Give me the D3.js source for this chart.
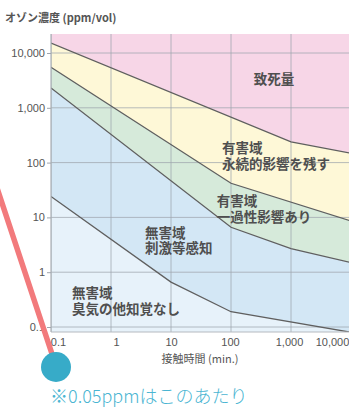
<!DOCTYPE html>
<html lang="ja">
<head>
<meta charset="utf-8">
<script src="https://cdn.jsdelivr.net/npm/d3@7"></script>
<style>
  html, body { margin: 0; padding: 0; background: #ffffff; }
  svg { display: block; font-family: "Noto Sans CJK JP", "Noto Sans", sans-serif; }
  text.zone { font-family: "Liberation Sans", "Noto Sans CJK JP", sans-serif; }
</style>
</head>
<body>
<svg id="chart" width="349" height="407"></svg>
<script>
// Exposure time (min) vs ozone concentration (ppm/vol), log-log
const tickValues = [0.1, 1, 10, 100, 1000, 10000];
const xTickLabels = ["0.1", "1", "10", "100", "1,000", "10,000"];
const yTickLabels = ["0.1", "1", "10", "100", "1,000", "10,000"];

// Boundary lines between effect zones: [minutes, ppm]
const lethalEdge    = [[0.1, 15200], [1000, 240], [10000, 148]];
const lastingEdge   = [[0.1, 5500], [100, 42], [10000, 8.6]];
const transientEdge = [[0.1, 2300], [100, 6.6], [1000, 2.7], [10000, 1.5]];
const perceptEdge   = [[0.1, 24], [10, 0.66], [100, 0.19], [10000, 0.08]];

const zoneNames = ["致死量", "有害域\n永続的影響を残す", "有害域\n一過性影響あり", "無害域\n刺激等感知", "無害域\n臭気の他知覚なし"];
const zoneColors = ["#f7d6e7", "#fef8d7", "#d6eada", "#d3e7f5", "#e7f2fa"];
// label anchor per zone: [minutes, ppm] at the first line's baseline
const zoneAnchors = [[520, 2700], [71, 148], [58, 16], [3.7, 4.2], [0.224, 0.335]];

const svg = d3.select("#chart");
const plotLeft = 51, plotRight = 349, plotTop = 34, plotBottom = 332;

const x = d3.scaleLog().domain([0.1, 10000]).range([plotLeft, 351]);
const y = d3.scaleLog().domain([0.1, 10000]).range([327, 53]);
const yTop = y.invert(plotTop), yBottom = y.invert(plotBottom);
const xRight = x.invert(plotRight + 2);

svg.append("defs").append("clipPath").attr("id", "plot")
  .append("rect").attr("x", plotLeft).attr("y", plotTop)
  .attr("width", plotRight - plotLeft).attr("height", plotBottom - plotTop);

const ceiling = [[0.1, yTop], [xRight, yTop]];
const floor = [[0.1, yBottom], [xRight, yBottom]];
const bands = [
  [ceiling, lethalEdge],
  [lethalEdge, lastingEdge],
  [lastingEdge, transientEdge],
  [transientEdge, perceptEdge],
  [perceptEdge, floor]
];

const pathOf = d3.line().x(d => x(d[0])).y(d => y(d[1]));
const plot = svg.append("g").attr("clip-path", "url(#plot)");

// zone fills
plot.selectAll("path.zone").data(bands).join("path")
  .attr("class", "zone")
  .attr("d", d => pathOf(d[0].concat(d[1].slice().reverse())) + "Z")
  .attr("fill", (d, i) => zoneColors[i]);

// grid
plot.selectAll("line.vgrid").data(tickValues).join("line")
  .attr("class", "vgrid")
  .attr("x1", d => x(d)).attr("x2", d => x(d))
  .attr("y1", plotTop).attr("y2", plotBottom)
  .attr("stroke", "#9fa5ad").attr("stroke-opacity", 0.75).attr("stroke-width", 1);
plot.selectAll("line.hgrid").data(tickValues).join("line")
  .attr("class", "hgrid")
  .attr("x1", plotLeft).attr("x2", plotRight)
  .attr("y1", d => y(d)).attr("y2", d => y(d))
  .attr("stroke", "#9fa5ad").attr("stroke-opacity", 0.75).attr("stroke-width", 1);

// boundary lines
plot.selectAll("path.edge").data([lethalEdge, lastingEdge, transientEdge, perceptEdge]).join("path")
  .attr("class", "edge")
  .attr("d", pathOf)
  .attr("fill", "none")
  .attr("stroke", "#5f5f5f").attr("stroke-width", 1.3);

// frame
svg.append("line").attr("x1", plotLeft).attr("x2", plotLeft).attr("y1", plotTop).attr("y2", plotBottom)
  .attr("stroke", "#aab0b6").attr("stroke-width", 1.2);
svg.append("line").attr("x1", plotLeft).attr("x2", plotRight).attr("y1", plotBottom).attr("y2", plotBottom)
  .attr("stroke", "#b5bac0").attr("stroke-width", 1.2);

// y axis
const yAxis = d3.axisLeft(y).tickValues(tickValues)
  .tickFormat((d, i) => yTickLabels[i]).tickSize(4).tickPadding(2);
const gy = svg.append("g").attr("transform", `translate(${plotLeft},0)`).call(yAxis);
gy.select(".domain").remove();
gy.selectAll(".tick line").attr("stroke", "#9fa5ad");
gy.selectAll(".tick text").attr("fill", "#555").style("font-size", "11px");

// x axis
const xDx = [7, 5, 0, -1, -2, -19];
const xAxis = d3.axisBottom(x).tickValues(tickValues)
  .tickFormat((d, i) => xTickLabels[i]).tickSize(0).tickPadding(6);
const gx = svg.append("g").attr("transform", `translate(0,${plotBottom})`).call(xAxis);
gx.select(".domain").remove();
gx.selectAll(".tick text").attr("fill", "#555").style("font-size", "11px")
  .attr("dx", (d, i) => xDx[i]);

// axis titles
svg.append("text").attr("x", 5).attr("y", 22)
  .attr("fill", "#555").style("font-size", "11px").style("font-weight", "600")
  .text("オゾン濃度 (ppm/vol)");
svg.append("text").attr("x", 200).attr("y", 363).attr("text-anchor", "middle")
  .attr("fill", "#555").style("font-size", "11px")
  .text("接触時間 (min.)");

// zone labels: one text per line
const labelRows = [];
zoneNames.forEach((name, i) => {
  name.split("\n").forEach((row, j) => {
    labelRows.push({ text: row, zone: i, line: j });
  });
});
svg.selectAll("text.zone").data(labelRows).join("text")
  .attr("class", "zone")
  .attr("fill", "#4f4f4f").style("font-size", "13.5px").style("font-weight", "700")
  .attr("text-anchor", d => d.zone === 0 ? "middle" : "start")
  .attr("x", d => x(zoneAnchors[d.zone][0]))
  .attr("y", d => y(zoneAnchors[d.zone][1]) + d.line * 15.3)
  .text(d => d.text);

// 0.05 ppm pointer
svg.append("line").attr("x1", -3).attr("y1", 188).attr("x2", 56).attr("y2", 366)
  .attr("stroke", "#f27a7c").attr("stroke-width", 5.5).attr("stroke-linecap", "round");
svg.append("circle").attr("cx", 56).attr("cy", 367).attr("r", 15).attr("fill", "#37abc8");
svg.append("text").attr("x", 50).attr("y", 403)
  .attr("fill", "#4ab5d2").style("font-size", "18px").style("font-weight", "300")
  .text("※0.05ppmはこのあたり");
</script>
</body>
</html>
